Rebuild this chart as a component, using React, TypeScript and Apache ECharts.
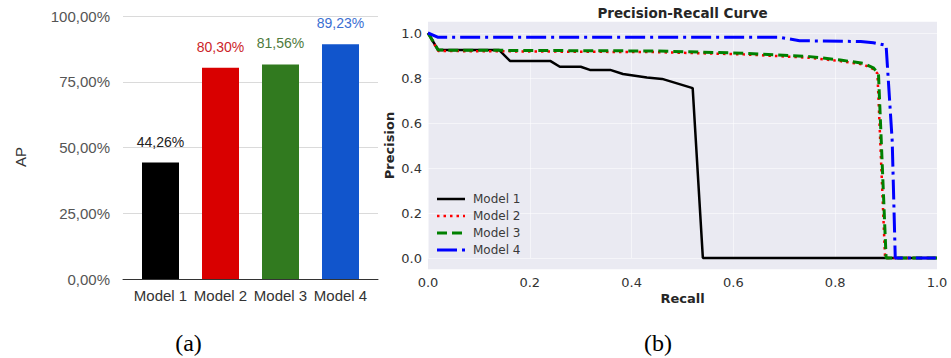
import React, { useEffect, useRef } from "react";
import * as echarts from "echarts";

// ---- Panel (a) data ----
const barCategories = ["Model 1", "Model 2", "Model 3", "Model 4"];
const apValues = [44.26, 80.3, 81.56, 89.23];
const barColors = ["#000000", "#d90000", "#317a1f", "#1155cc"];
const barLabelColors = ["#222222", "#cc1f2a", "#4f7a3c", "#3b6fd2"];

// ---- Panel (b) data ----
const model1Recall = [0, 0.02, 0.14, 0.161, 0.24, 0.259, 0.3, 0.318, 0.358, 0.383, 0.43, 0.46, 0.52, 0.54, 1.0];
const model1Precision = [1.0, 0.924, 0.924, 0.876, 0.876, 0.85, 0.85, 0.836, 0.836, 0.818, 0.802, 0.796, 0.755, 0, 0];

const model2Recall = [0, 0.02, 0.45, 0.62, 0.75, 0.81, 0.855, 0.875, 0.883, 0.898, 1.0];
const model2Precision = [1.0, 0.92, 0.915, 0.905, 0.89, 0.875, 0.86, 0.84, 0.82, 0, 0];

const model3Recall = [0, 0.02, 0.45, 0.62, 0.75, 0.81, 0.855, 0.875, 0.885, 0.9, 1.0];
const model3Precision = [1.0, 0.924, 0.92, 0.91, 0.895, 0.88, 0.865, 0.845, 0.82, 0, 0];

const model4Recall = [0, 0.02, 0.69, 0.73, 0.85, 0.875, 0.9, 0.912, 0.918, 1.0];
const model4Precision = [1.0, 0.981, 0.981, 0.966, 0.962, 0.957, 0.945, 0.52, 0, 0];

const prNames = ["Model 1", "Model 2", "Model 3", "Model 4"];
const prColors = ["#000000", "#ff0000", "#008000", "#0000ff"];
const prWidths = [2.5, 2.5, 3, 3];
const prDashes: (number[] | "solid")[] = ["solid", [2.5, 4], [10, 5], [20, 5, 3, 5]];

const zip = (xs: number[], ys: number[]) => xs.map((x, i) => [x, ys[i]]);

const fmtPct = (v: number) => v.toFixed(2).replace(".", ",") + "%";

export default function App() {
  const ref = useRef<HTMLDivElement>(null);

  useEffect(() => {
    if (!ref.current) return;
    const chart = echarts.init(ref.current, undefined, { renderer: "svg" });
    const prData = [
      zip(model1Recall, model1Precision),
      zip(model2Recall, model2Precision),
      zip(model3Recall, model3Precision),
      zip(model4Recall, model4Precision),
    ];

    const sansA = "'Liberation Sans', Arial, sans-serif";
    const sansB = "'DejaVu Sans', sans-serif";
    const serif = "'Liberation Serif', 'DejaVu Serif', serif";

    const legendGraphics: any[] = [];
    const legendY = [199, 216, 233, 250];
    prNames.forEach((name, i) => {
      legendGraphics.push({
        type: "line",
        z: 10,
        shape: { x1: 437, y1: legendY[i], x2: 465, y2: legendY[i] },
        style: {
          stroke: prColors[i],
          lineWidth: prWidths[i],
          lineDash: prDashes[i] === "solid" ? null : prDashes[i],
        },
      });
      legendGraphics.push({
        type: "text",
        z: 10,
        x: 473,
        y: legendY[i],
        style: {
          text: name,
          fill: "#3a3a3a",
          font: `12px ${sansB}`,
          align: "left",
          verticalAlign: "middle",
        },
      });
    });

    const option: any = {
      animation: false,
      backgroundColor: "#ffffff",
      grid: [
        { left: 123, top: 16, width: 255, height: 263 },
        { left: 130.5, top: 16, width: 240, height: 263 },
        { left: 428, top: 33, width: 509, height: 225 },
      ],
      xAxis: [
        {
          gridIndex: 0,
          type: "value",
          min: 0,
          max: 1,
          z: 5,
          axisLine: { show: true, lineStyle: { color: "#333333", width: 1 } },
          axisTick: { show: false },
          axisLabel: { show: false },
          splitLine: { show: false },
        },
        {
          gridIndex: 1,
          type: "category",
          data: barCategories,
          axisLine: { show: false },
          axisTick: { show: false },
          axisLabel: { color: "#333333", fontSize: 15, margin: 9, fontFamily: sansA, interval: 0 },
        },
        {
          gridIndex: 2,
          type: "value",
          min: 0,
          max: 1,
          interval: 0.2,
          axisLine: { show: false },
          axisTick: { show: false },
          axisLabel: {
            formatter: (v: number) => v.toFixed(1),
            color: "#333333",
            fontSize: 13,
            margin: 18,
            fontFamily: sansB,
          },
          splitLine: { show: true, lineStyle: { color: "rgba(255,255,255,0.5)", width: 1 } },
        },
      ],
      yAxis: [
        {
          gridIndex: 0,
          type: "value",
          min: 0,
          max: 100,
          interval: 25,
          axisLine: { show: false },
          axisTick: { show: false },
          axisLabel: { formatter: (v: number) => fmtPct(v), color: "#555555", fontSize: 15, margin: 13, fontFamily: sansA },
          splitLine: { show: true, lineStyle: { color: "#dadada", width: 1 } },
        },
        { gridIndex: 1, type: "value", min: 0, max: 100, show: false },
        {
          gridIndex: 2,
          type: "value",
          min: 0,
          max: 1,
          interval: 0.2,
          axisLine: { show: false },
          axisTick: { show: false },
          axisLabel: {
            formatter: (v: number) => v.toFixed(1),
            color: "#333333",
            fontSize: 13,
            margin: 6,
            fontFamily: sansB,
          },
          splitLine: { show: true, lineStyle: { color: "rgba(255,255,255,0.5)", width: 1 } },
        },
      ],
      series: [
        {
          type: "bar",
          xAxisIndex: 1,
          yAxisIndex: 1,
          barWidth: 37,
          data: apValues.map((v, i) => ({
            value: v,
            itemStyle: { color: barColors[i] },
            label: { color: barLabelColors[i] },
          })),
          label: {
            show: true,
            position: "top",
            distance: 14,
            fontSize: 14,
            fontFamily: sansA,
            formatter: (p: any) => fmtPct(p.value),
          },
        },
        ...prNames.map((name, i) => ({
          type: "line",
          name,
          xAxisIndex: 2,
          yAxisIndex: 2,
          data: prData[i],
          showSymbol: false,
          symbol: "none",
          clip: false,
          z: 3 + i,
          lineStyle: { color: prColors[i], width: prWidths[i], type: prDashes[i] },
        })),
      ],
      graphic: [
        {
          type: "rect",
          z: -1,
          shape: { x: 428, y: 21.75, width: 509, height: 247.5 },
          style: { fill: "#eaeaf2" },
        },
        {
          type: "text",
          x: 682.5,
          y: 13,
          style: {
            text: "Precision-Recall Curve",
            fill: "#262626",
            font: `bold 13.5px ${sansB}`,
            align: "center",
            verticalAlign: "middle",
          },
        },
        {
          type: "text",
          x: 389,
          y: 145.5,
          rotation: Math.PI / 2,
          style: {
            text: "Precision",
            fill: "#262626",
            font: `bold 13px ${sansB}`,
            align: "center",
            verticalAlign: "middle",
          },
        },
        {
          type: "text",
          x: 682.5,
          y: 298,
          style: {
            text: "Recall",
            fill: "#262626",
            font: `bold 13px ${sansB}`,
            align: "center",
            verticalAlign: "middle",
          },
        },
        {
          type: "text",
          x: 20,
          y: 157,
          rotation: Math.PI / 2,
          style: {
            text: "AP",
            fill: "#333333",
            font: `15px ${sansA}`,
            align: "center",
            verticalAlign: "middle",
          },
        },
        {
          type: "text",
          x: 188.5,
          y: 343,
          style: { text: "(a)", fill: "#000000", font: `24px ${serif}`, align: "center", verticalAlign: "middle" },
        },
        {
          type: "text",
          x: 658,
          y: 343,
          style: { text: "(b)", fill: "#000000", font: `24px ${serif}`, align: "center", verticalAlign: "middle" },
        },
        ...legendGraphics,
      ],
    };

    chart.setOption(option);
    return () => chart.dispose();
  }, []);

  return (
    <div
      ref={ref}
      style={{ position: "absolute", left: 0, top: 0, width: 951, height: 358 }}
    />
  );
}
